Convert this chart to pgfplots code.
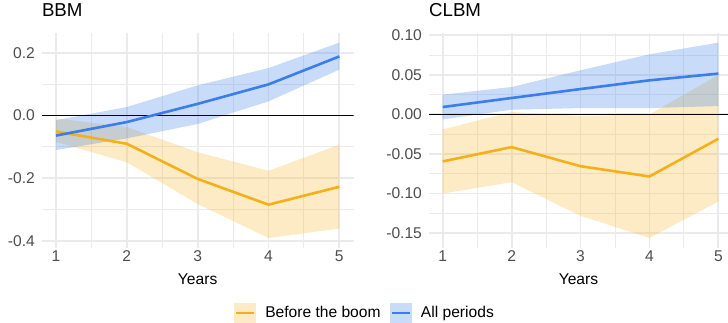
\documentclass[border=0pt]{standalone}
\usepackage{fontspec}
\setmainfont{Liberation Sans}
\usepackage{pgfplots}
\pgfplotsset{compat=1.18}
\usepackage{pgfplotstable}
\usepgfplotslibrary{fillbetween}
\definecolor{orline}{RGB}{245,176,25}
\definecolor{blline}{RGB}{58,125,235}
\definecolor{gridc}{RGB}{235,235,235}
\definecolor{ticktext}{RGB}{77,77,77}
\newcommand\basefont{\fontsize{15.6}{18}\selectfont}
\newcommand\titlefont{\fontsize{18.7}{22}\selectfont}

% BBM, before the boom
\pgfplotstableread{
x est lo hi
1 -0.051 -0.084 -0.009
2 -0.090 -0.149 -0.037
3 -0.202 -0.282 -0.117
4 -0.284 -0.390 -0.176
5 -0.227 -0.360 -0.093
}\bbmB
% BBM, all periods
\pgfplotstableread{
x est lo hi
1 -0.064 -0.110 -0.015
2 -0.021 -0.073 0.027
3 0.037 -0.027 0.096
4 0.099 0.045 0.151
5 0.188 0.146 0.232
}\bbmA
% CLBM, before the boom
\pgfplotstableread{
x est lo hi
1 -0.0594 -0.100 -0.019
2 -0.0413 -0.0856 0.003
3 -0.0654 -0.128 -0.002
4 -0.0784 -0.156 0.000
5 -0.0308 -0.110 0.0497
}\clbmB
% CLBM, all periods
\pgfplotstableread{
x est lo hi
1 0.0093 -0.0063 0.0249
2 0.0207 0.0059 0.0346
3 0.032 0.008 0.0557
4 0.043 0.008 0.0759
5 0.0515 0.0105 0.0906
}\clbmA

\pgfplotsset{
  panel/.style={
    scale only axis, height=214.8pt,
    axis line style={draw=none},
    major tick length=0pt, minor tick length=0pt,
    tick style={draw=none},
    grid=both,
    major grid style={gridc, line width=1.8pt},
    minor grid style={gridc, line width=0.9pt},
    xtick={1,2,3,4,5}, xticklabels={1,2,3,4,5},
    minor x tick num=1, minor y tick num=1,
    /pgf/number format/assume math mode=true,
    tick label style={ticktext, inner sep=0pt, font=\basefont},
    xticklabel style={anchor=north, yshift=-2.5pt},
    yticklabel style={anchor=east, xshift=-6.8pt},
    xlabel={Years},
    xlabel style={at={(axis description cs:0.5,0)}, anchor=base, yshift=-37.3pt, inner sep=0pt, text=black, font=\basefont},
    title style={at={(axis description cs:0,1)}, anchor=base west, yshift=10.3pt, inner sep=0pt, text=black, font=\titlefont},
  },
  ribB/.style={fill=orline, fill opacity=0.25, draw=none, forget plot},
  ribA/.style={fill=blline, fill opacity=0.28, draw=none, forget plot},
  lnB/.style={orline, line width=2.6pt, forget plot},
  lnA/.style={blline, line width=2.6pt, forget plot},
}

\begin{document}
\begin{tikzpicture}

\begin{axis}[panel,
  at={(41.8pt,75.3pt)}, anchor=south west,
  width=311.7pt,
  xmin=0.8, xmax=5.2, ymin=-0.421, ymax=0.263,
  ytick={-0.4,-0.2,0,0.2}, yticklabels={-0.4,-0.2,0.0,0.2},
  title={BBM},
  legend columns=2,
  legend style={at={(axis description cs:1.034,-0.304)}, anchor=center,
    draw=none, fill=none, inner sep=0pt, column sep=9.5pt,
    nodes={inner sep=0pt, text=black, font=\basefont}},
]
\addplot[draw=none, name path=bBlo, forget plot] table[x=x, y=lo] {\bbmB};
\addplot[draw=none, name path=bBhi, forget plot] table[x=x, y=hi] {\bbmB};
\addplot[ribB] fill between[of=bBlo and bBhi];
\addplot[draw=none, name path=bAlo, forget plot] table[x=x, y=lo] {\bbmA};
\addplot[draw=none, name path=bAhi, forget plot] table[x=x, y=hi] {\bbmA};
\addplot[ribA] fill between[of=bAlo and bAhi];
\addplot[black, line width=1.6pt, forget plot] coordinates {(0.8,0) (5.2,0)};
\addplot[lnB] table[x=x, y=est] {\bbmB};
\addplot[lnA] table[x=x, y=est] {\bbmA};
\addlegendimage{legend image code/.code={
  \fill[orline!25] (0pt,-9.7pt) rectangle (21pt,9.7pt);
  \draw[orline, line width=2.6pt] (1.5pt,0pt) -- (19.5pt,0pt);}}
\addlegendentry{Before the boom}
\addlegendimage{legend image code/.code={
  \fill[blline!28] (0pt,-9.7pt) rectangle (21pt,9.7pt);
  \draw[blline, line width=2.6pt] (1.5pt,0pt) -- (19.5pt,0pt);}}
\addlegendentry{All periods}
\end{axis}

\begin{axis}[panel,
  at={(428.9pt,75.3pt)}, anchor=south west,
  width=299.1pt,
  xmin=0.8, xmax=5.14, ymin=-0.1683, ymax=0.1029,
  ytick={-0.15,-0.1,-0.05,0,0.05,0.1}, yticklabels={-0.15,-0.10,-0.05,0.00,0.05,0.10},
  title={CLBM},
]
\addplot[draw=none, name path=cBlo, forget plot] table[x=x, y=lo] {\clbmB};
\addplot[draw=none, name path=cBhi, forget plot] table[x=x, y=hi] {\clbmB};
\addplot[ribB] fill between[of=cBlo and cBhi];
\addplot[draw=none, name path=cAlo, forget plot] table[x=x, y=lo] {\clbmA};
\addplot[draw=none, name path=cAhi, forget plot] table[x=x, y=hi] {\clbmA};
\addplot[ribA] fill between[of=cAlo and cAhi];
\addplot[black, line width=1.6pt, forget plot] coordinates {(0.8,0) (5.14,0)};
\addplot[lnB] table[x=x, y=est] {\clbmB};
\addplot[lnA] table[x=x, y=est] {\clbmA};
\end{axis}
\pgfresetboundingbox
\path[use as bounding box] (0pt,0pt) rectangle (728pt,323pt);
\end{tikzpicture}
\end{document}
